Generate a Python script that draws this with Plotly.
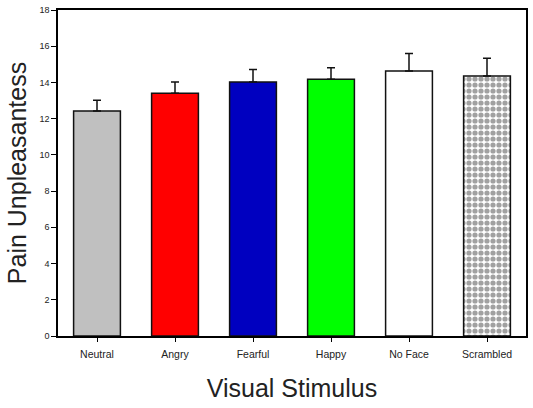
import plotly.graph_objects as go

categories = ["Neutral", "Angry", "Fearful", "Happy", "No Face", "Scrambled"]
means = [12.42, 13.40, 14.03, 14.17, 14.63, 14.36]
errors = [0.60, 0.62, 0.69, 0.64, 0.97, 0.98]
colors = ["#c0c0c0", "#ff0000", "#0000c0", "#00ff00", "#ffffff", "#ffffff"]
patterns = ["", "", "", "", "", "."]
y_ticks = [0, 2, 4, 6, 8, 10, 12, 14, 16, 18]

fig = go.Figure()
fig.add_trace(go.Bar(
    x=categories, y=means, width=0.6,
    marker=dict(color=colors, line=dict(color="#111111", width=1.5),
                pattern=dict(shape=patterns, fgcolor="black", bgcolor="white",
                             size=6, solidity=0.6, fillmode="overlay")),
    error_y=dict(type="data", array=errors, arrayminus=[0]*6, symmetric=False,
                 color="#111111", thickness=1.5, width=4),
))
fig.update_layout(
    width=533, height=408, margin=dict(l=58, r=5, t=7, b=72),
    plot_bgcolor="white", paper_bgcolor="white", showlegend=False,
    font=dict(family="Liberation Sans, Arial, sans-serif", color="#222222"),
    xaxis=dict(range=[-0.5, 5.5], showline=True, linecolor="black", linewidth=1.5,
               mirror=True, ticks="outside", ticklen=4, tickcolor="black",
               tickfont=dict(size=10.5), ticklabelstandoff=4,
               title=dict(text="Visual Stimulus", font=dict(size=25), standoff=20)),
    yaxis=dict(range=[0, 18], tickvals=y_ticks, showline=True, linecolor="black",
               linewidth=1.5, mirror=True, ticks="outside", ticklen=5,
               tickcolor="black", tickfont=dict(size=9), showgrid=False,
               zeroline=False,
               title=dict(text="Pain Unpleasantess", font=dict(size=25), standoff=6)),
)
fig.write_html("out.html")
